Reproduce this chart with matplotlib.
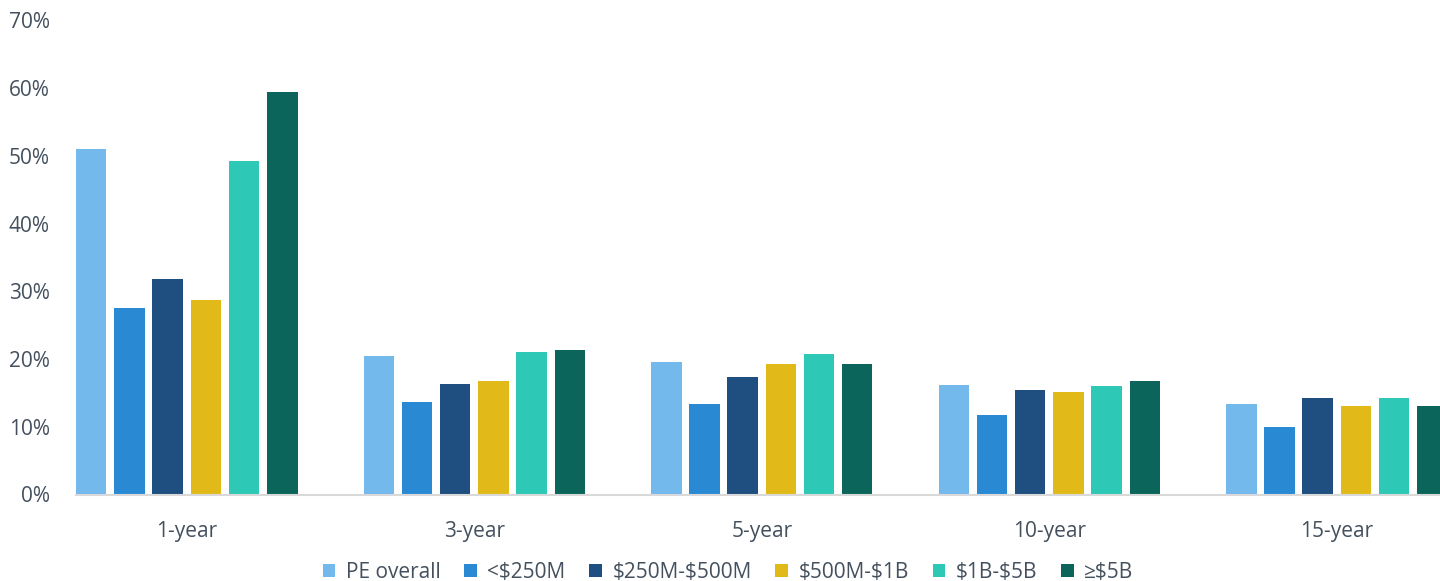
import numpy as np
import matplotlib
matplotlib.use("Agg")
import matplotlib.pyplot as plt
from matplotlib.ticker import FuncFormatter

plt.rcParams['font.family'] = ['Open Sans', 'DejaVu Sans']
plt.rcParams['text.parse_math'] = False  # keep the $ signs literal

# data (percent)
periods = ["1-year", "3-year", "5-year", "10-year", "15-year"]
series_names = ["PE overall", "<$250M", "$250M-$500M", "$500M-$1B", "$1B-$5B", "≥$5B"]
pe_overall = [51.0, 20.5, 19.6, 16.1, 13.4]
under_250m = [27.5, 13.7, 13.3, 11.8, 9.9]
m250_m500 = [31.8, 16.3, 17.4, 15.5, 14.3]
m500_b1 = [28.7, 16.8, 19.2, 15.1, 13.0]
b1_b5 = [49.2, 21.1, 20.7, 16.0, 14.3]
over_5b = [59.4, 21.3, 19.2, 16.8, 13.0]

series = [pe_overall, under_250m, m250_m500, m500_b1, b1_b5, over_5b]
colors = ["#74B9EC", "#2A89D3", "#1E4F80", "#E1BA19", "#2DC9B6", "#0B655A"]
text_color = "#44505E"

W, H = 1440, 581
fig = plt.figure(figsize=(W / 100, H / 100), dpi=100)

# axes: left edge at first bar, right edge at image edge (last bar gets clipped)
group_px = 287.5
first_center_px = 186.75
x_left = (76 - first_center_px) / group_px
x_right = (W - first_center_px) / group_px
y0_px, y70_px = 494.5, 20.5
ax = fig.add_axes([76 / W, (H - y0_px) / H, (W - 76) / W, (y0_px - y70_px) / H])

x = np.arange(len(periods))
step = 38.2 / group_px
width = 30.5 / group_px
for i, (name, vals, c) in enumerate(zip(series_names, series, colors)):
    ax.bar(x + (i - 2.5) * step, vals, width=width, color=c, label=name, zorder=2)

ax.set_xlim(x_left, x_right)
ax.set_ylim(0, 70)
ax.set_yticks(np.arange(0, 71, 10))
ax.yaxis.set_major_formatter(FuncFormatter(lambda v, p: f"{v:.0f}%"))
ax.set_xticks(x)
ax.set_xticklabels(periods)

for s in ["top", "right", "left"]:
    ax.spines[s].set_visible(False)
ax.spines["bottom"].set_color("#D9D9D9")
ax.spines["bottom"].set_linewidth(1.5)
ax.tick_params(axis="y", length=0, pad=19, labelsize=15, labelcolor=text_color)
ax.tick_params(axis="x", length=0, pad=19, labelsize=15, labelcolor=text_color)

fig.legend(loc="center", bbox_to_anchor=(728 / W, 1 - 572 / H), ncol=6, frameon=False,
           fontsize=15, handlelength=0.6, handleheight=0.6, handletextpad=0.5,
           columnspacing=1.15, labelcolor=text_color)

fig.savefig("out.png", dpi=100)
